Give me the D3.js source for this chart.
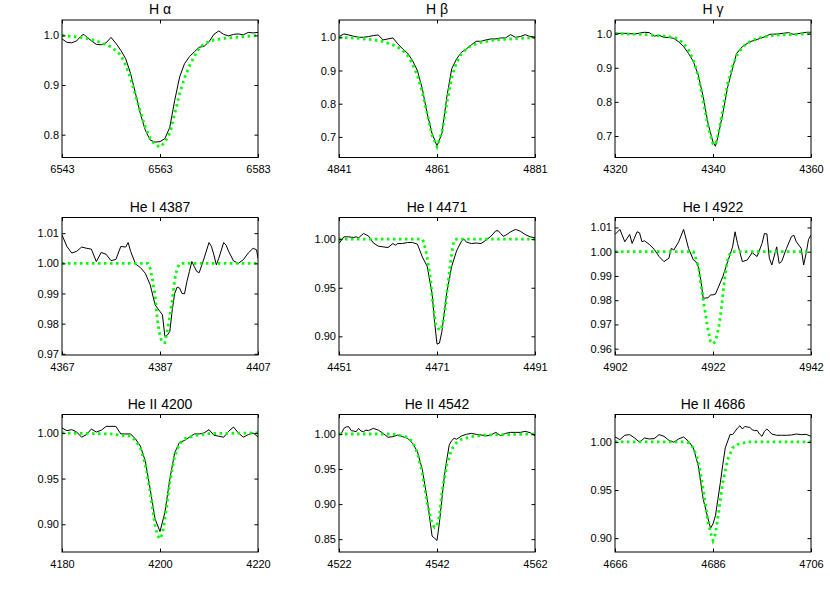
<!DOCTYPE html>
<meta charset="utf-8">
<style>

body {
  margin: 0;
  background: #fff;
}

.chart text {
  font-family: "Liberation Sans", Arial, sans-serif;
  fill: #000;
}

.chart .tick text {
  font-size: 11px;
}

.chart .title {
  font-size: 14px;
  text-anchor: middle;
}

.frame {
  fill: none;
  stroke: #000;
  stroke-width: 1;
}

.obs {
  fill: none;
  stroke: #000;
  stroke-width: 1;
}

.model {
  fill: none;
  stroke: #00ff00;
  stroke-width: 2.8;
  stroke-dasharray: 2.5 3.5;
}

</style>
<svg class="chart"></svg>
<script src="https://d3js.org/d3.v7.min.js"></script>
<script>

// panel titles, line centres (Angstrom), y limits and y ticks
var titles = ["H \u03b1", "H \u03b2", "H \u03b3",
              "He I 4387", "He I 4471", "He I 4922",
              "He II 4200", "He II 4542", "He II 4686"];

var centers = [6563, 4861, 4340, 4387, 4471, 4922, 4200, 4542, 4686];

var yLimits = [[0.754, 1.031], [0.638, 1.052], [0.637, 1.040],
               [0.9696, 1.0152], [0.8808, 1.0223], [0.9574, 1.0141],
               [0.8696, 1.0202], [0.8317, 1.0278], [0.8856, 1.0285]];

var yTicks = [[0.8, 0.9, 1.0], [0.7, 0.8, 0.9, 1.0], [0.7, 0.8, 0.9, 1.0],
              [0.97, 0.98, 0.99, 1.00, 1.01], [0.90, 0.95, 1.00], [0.96, 0.97, 0.98, 0.99, 1.00, 1.01],
              [0.90, 0.95, 1.00], [0.85, 0.90, 0.95, 1.00], [0.90, 0.95, 1.00]];

var yDigits = [1, 1, 1, 2, 2, 2, 2, 2, 2];

// observed spectra [wavelength, flux]
var haObs = [[6543,0.993],[6544,0.986],[6545,0.985],[6546,0.989],[6547,1.000],[6547.5,1.002],[6548,0.997],
  [6549,0.989],[6550,0.982],[6551,0.981],[6552,0.985],[6553,0.996],[6554,0.984],[6555,0.970],[6556,0.953],
  [6557,0.923],[6558,0.883],[6559,0.842],[6560,0.809],[6561,0.789],[6562,0.785],[6563,0.786],[6564,0.792],
  [6565,0.815],[6566,0.869],[6567,0.916],[6568,0.943],[6569,0.957],[6570,0.967],[6571,0.976],[6572,0.978],
  [6573,0.987],[6574,1.002],[6575,1.009],[6576,1.002],[6577,0.999],[6578,1.002],[6579,1.003],[6580,1.001],
  [6581,1.006],[6582,1.005],[6583,1.006]];

var hbObs = [[4841,1.002],[4842,1.010],[4843,1.007],[4844,1.003],[4845,1.000],[4846,1.000],[4847,1.002],
  [4848,1.005],[4849,1.007],[4850,0.992],[4851,0.995],[4852,0.998],[4853,0.980],[4854,0.965],[4855,0.952],
  [4856,0.930],[4857,0.900],[4858,0.845],[4859,0.770],[4860,0.710],[4861,0.673],[4862,0.710],[4863,0.820],
  [4864,0.905],[4865,0.935],[4866,0.955],[4867,0.965],[4868,0.977],[4869,0.988],[4870,0.988],[4871,0.992],
  [4872,0.995],[4873,0.995],[4874,0.998],[4875,0.998],[4876,1.008],[4877,1.000],[4878,1.002],[4879,1.008],
  [4880,1.002],[4881,1.002]];

var hgObs = [[4320,1.001],[4322,1.001],[4324,0.999],[4326,1.004],[4327,1.003],[4328,0.993],[4329,0.995],
  [4330,0.989],[4331,0.989],[4332,0.986],[4333,0.976],[4334,0.962],[4335,0.942],[4336,0.918],[4337,0.878],
  [4338,0.815],[4339,0.736],[4340,0.682],[4340.5,0.670],[4341,0.697],[4342,0.766],[4343,0.844],[4344,0.898],
  [4344.8,0.942],[4346,0.962],[4347.5,0.976],[4349,0.983],[4350.6,0.991],[4351.6,0.998],[4353,0.999],
  [4354.3,1.001],[4355.4,1.003],[4356.4,0.998],[4357.8,1.001],[4359.1,1.004],[4360,1.004]];

var he4387Obs = [[4367,1.0094],[4368,1.0056],[4369,1.0034],[4370,1.0040],[4371,1.0054],[4372,1.0050],
  [4373,1.0047],[4374,1.0006],[4375,1.0036],[4376,1.0030],[4377,1.0009],[4378,1.0013],[4379,1.0056],
  [4380,1.0054],[4380.5,1.0069],[4381,1.0040],[4382,0.9998],[4383,0.9986],[4384,0.9967],[4385,0.9929],
  [4386,0.9862],[4387,0.9840],[4387.5,0.9829],[4388,0.9757],[4388.5,0.9762],[4389,0.9774],[4389.5,0.9846],
  [4390,0.9900],[4390.5,0.9921],[4391,0.9918],[4391.5,0.9900],[4392,0.9899],[4392.5,0.9940],[4393,0.9973],
  [4393.5,1.0006],[4394,0.9989],[4394.5,0.9973],[4395,0.9969],[4396,1.0017],[4397,1.0069],[4397.5,1.0056],
  [4398,1.0028],[4398.5,0.9995],[4399,1.0017],[4400,1.0069],[4400.5,1.0060],[4401,1.0040],[4402,1.0008],
  [4403,1.0000],[4404,1.0012],[4405,1.0034],[4406,1.0050],[4406.7,1.0045],[4407,1.0017]];

var he4471Obs = [[4451,0.9955],[4452,1.0024],[4453,1.0024],[4454,1.0017],[4454.5,1.0024],[4455,1.0014],
  [4456,1.0058],[4457,1.0034],[4458,0.9962],[4459,0.9928],[4460,0.9921],[4461,0.9914],[4462,0.9955],
  [4462.5,0.9938],[4463,0.9955],[4464,0.9955],[4465,0.9966],[4466,0.9966],[4467,0.9949],[4468,0.9818],
  [4469,0.9720],[4470,0.9440],[4470.5,0.9150],[4471,0.8920],[4471.5,0.8930],[4472,0.9050],[4472.5,0.9250],
  [4473,0.9450],[4474,0.9720],[4475,0.9880],[4476,0.9980],[4476.5,1.0000],[4477,0.9970],[4478,0.9955],
  [4479,0.9960],[4480,0.9955],[4481,0.9990],[4482,1.0030],[4483,1.0086],[4483.5,1.0086],[4484,1.0058],
  [4484.5,1.0030],[4485,1.0040],[4486,1.0075],[4487,1.0100],[4488,1.0082],[4489,1.0048],[4490,1.0024],
  [4491,1.0014]];

var he4922Obs = [[4902,1.0071],[4903,1.0092],[4904,1.0041],[4905,1.0071],[4905.5,1.0034],[4906.5,1.0082],
  [4907,1.0078],[4907.5,1.0041],[4908,1.0045],[4909,1.0030],[4910,1.0010],[4911,0.9980],[4912,0.9959],
  [4913,0.9973],[4913.5,1.0014],[4914,1.0007],[4915,1.0041],[4916,1.0092],[4917,1.0014],[4918,0.9966],
  [4918.5,0.9959],[4919,0.9938],[4919.5,0.9884],[4920,0.9808],[4921,0.9810],[4921.5,0.9822],[4922,0.9822],
  [4922.5,0.9825],[4923,0.9849],[4924,0.9897],[4925,0.9959],[4926,1.0020],[4926.5,1.0082],[4927,1.0034],
  [4928,0.9959],[4929,0.9966],[4930,0.9996],[4931,0.9980],[4932,1.0034],[4932.5,1.0075],[4933,1.0073],
  [4933.5,0.9973],[4934,0.9945],[4935,1.0020],[4935.5,0.9952],[4936,0.9959],[4937,1.0014],[4938,1.0062],
  [4938.5,1.0068],[4939,1.0041],[4940,1.0014],[4940.5,0.9945],[4941,0.9993],[4941.5,1.0051],[4942,1.0068]];

var he4200Obs = [[4180,1.0054],[4181,1.0025],[4182,1.0036],[4183,1.0010],[4184,0.9953],[4185,0.9982],
  [4186,1.0043],[4187,1.0010],[4188,1.0029],[4189,1.0072],[4190,1.0072],[4191,1.0072],[4192,0.9989],
  [4193,0.9989],[4194,0.9989],[4195,0.9935],[4196,0.9855],[4197,0.9692],[4198,0.9384],[4199,0.9058],
  [4200,0.8920],[4201,0.9130],[4202,0.9493],[4203,0.9783],[4204,0.9899],[4205,0.9917],[4206,0.9953],
  [4207,0.9989],[4208,0.9989],[4209,1.0000],[4210,1.0036],[4211,0.9975],[4212,0.9964],[4213,0.9953],
  [4214,1.0018],[4215,1.0065],[4216,1.0000],[4217,0.9953],[4218,0.9982],[4219,1.0000],[4220,0.9957]];

var he4542Obs = [[4522,0.9995],[4522.5,1.0009],[4523,1.0080],[4523.5,1.0103],[4524,1.0103],[4524.5,1.0047],
  [4525,1.0042],[4525.5,1.0033],[4526,1.0080],[4526.5,1.0042],[4527,1.0033],[4527.5,1.0056],[4528,1.0047],
  [4529,1.0080],[4530,1.0056],[4531,1.0009],[4532,0.9953],[4533,0.9962],[4534,0.9986],[4535,0.9962],
  [4536,0.9939],[4537,0.9868],[4538,0.9751],[4539,0.9492],[4540,0.9069],[4541,0.8543],[4541.5,0.8514],
  [4542,0.8481],[4542.5,0.8740],[4543,0.9069],[4543.5,0.9398],[4544,0.9633],[4544.5,0.9845],[4545,0.9906],
  [4545.5,0.9939],[4546,0.9925],[4547,0.9972],[4548,0.9995],[4549,1.0009],[4550,0.9995],[4551,0.9986],
  [4552,0.9972],[4553,0.9986],[4554,1.0023],[4555,0.9976],[4556,1.0009],[4557,1.0023],[4558,1.0023],
  [4559,1.0023],[4560,1.0038],[4561,1.0019],[4562,0.9972]];

var he4686Obs = [[4666,1.0052],[4667,1.0024],[4668,1.0069],[4669,1.0076],[4670,1.0041],[4671,0.9997],
  [4672,1.0041],[4673,1.0031],[4674,1.0034],[4675,1.0076],[4676,1.0058],[4677,1.0017],[4678,0.9997],
  [4679,1.0031],[4680,1.0052],[4681,1.0007],[4682,0.9938],[4683,0.9749],[4684,0.9405],[4685,0.9199],
  [4685.5,0.9103],[4686,0.9148],[4686.5,0.9234],[4687,0.9405],[4687.5,0.9577],[4688,0.9766],[4688.5,0.9938],
  [4689.5,1.0079],[4690,1.0076],[4690.5,1.0110],[4691,1.0144],[4691.5,1.0168],[4692,1.0134],[4692.5,1.0161],
  [4693,1.0155],[4693.5,1.0151],[4694,1.0127],[4694.5,1.0117],[4695,1.0120],[4695.5,1.0082],[4696,1.0058],
  [4696.5,1.0110],[4697,1.0134],[4697.5,1.0110],[4698,1.0082],[4699,1.0069],[4700,1.0069],[4701,1.0069],
  [4702,1.0072],[4703,1.0082],[4704,1.0076],[4705,1.0079],[4706,1.0058]];

// model spectra [wavelength, flux]
var haModel = [[6543,1.000],[6546,0.997],[6548,0.994],[6550,0.989],[6552,0.981],[6553,0.977],[6554,0.969],
  [6555,0.960],[6556,0.940],[6557,0.913],[6558,0.880],[6559,0.846],[6560,0.815],[6561,0.792],[6562,0.780],
  [6563,0.775],[6564,0.785],[6565,0.803],[6566,0.842],[6567,0.882],[6568,0.914],[6569,0.938],[6570,0.958],
  [6571,0.974],[6572,0.983],[6574,0.991],[6577,0.995],[6583,1.000]];

var hbModel = [[4841,1.000],[4845,0.997],[4848,0.992],[4850,0.987],[4852,0.977],[4853,0.970],[4854,0.960],
  [4855,0.945],[4856,0.920],[4857,0.885],[4858,0.835],[4859,0.770],[4860,0.705],[4861,0.670],[4862,0.715],
  [4863,0.800],[4864,0.880],[4865,0.925],[4866,0.950],[4867,0.965],[4868,0.975],[4870,0.985],[4873,0.992],
  [4877,0.996],[4881,0.999]];

var hgModel = [[4320,1.000],[4325,0.998],[4330,0.993],[4332,0.989],[4333,0.983],[4334,0.972],[4335,0.952],
  [4336,0.923],[4337,0.874],[4338,0.805],[4339,0.726],[4340,0.677],[4340.5,0.675],[4341,0.700],[4342,0.775],
  [4343,0.855],[4344,0.905],[4345,0.940],[4346,0.960],[4347,0.972],[4348,0.980],[4350,0.990],[4353,0.996],
  [4357,0.998],[4360,1.000]];

var he4387Model = [[4367,1.0],[4384.5,1.0],[4385,0.9983],[4385.5,0.9945],[4386,0.9890],[4386.5,0.9810],
  [4387,0.9757],[4387.5,0.9737],[4388,0.9737],[4388.5,0.9778],[4389,0.9823],[4389.5,0.9878],[4390,0.9945],
  [4390.5,0.9983],[4391,0.9998],[4391.5,1.0],[4407,1.0]];

var he4471Model = [[4451,1.0],[4468,1.0],[4468.3,0.997],[4468.85,0.985],[4469.3,0.9716],[4469.7,0.958],
  [4470,0.941],[4470.35,0.927],[4470.7,0.913],[4471.2,0.908],[4471.8,0.9065],[4472.3,0.917],[4472.7,0.930],
  [4473.1,0.948],[4473.5,0.965],[4473.8,0.978],[4474.2,0.992],[4474.5,0.999],[4475,1.0],[4491,1.0]];

var he4922Model = [[4902,1.0],[4918,1.0],[4918.6,0.9966],[4919.1,0.9932],[4919.4,0.9884],[4919.8,0.9836],
  [4920.1,0.9788],[4920.5,0.9740],[4920.8,0.9699],[4921.15,0.9664],[4921.5,0.9630],[4922,0.9620],
  [4922.5,0.9630],[4922.85,0.9658],[4923.2,0.9692],[4923.55,0.9740],[4923.9,0.9801],[4924.15,0.9849],
  [4924.5,0.9904],[4924.8,0.9952],[4925.3,0.9986],[4925.8,1.0],[4942,1.0]];

var he4200Model = [[4180,1.0],[4190,0.9989],[4193,0.997],[4194,0.9964],[4195,0.992],[4196,0.9837],
  [4197,0.9656],[4198,0.9348],[4199,0.8986],[4199.5,0.8877],[4200,0.884],[4200.5,0.8895],[4201,0.9058],
  [4202,0.9457],[4203,0.9746],[4204,0.9884],[4205,0.9935],[4207,0.997],[4210,0.9993],[4220,1.0]];

var he4542Model = [[4522,1.0],[4532,1.0],[4534,0.9986],[4536,0.9953],[4537,0.9892],[4538,0.9728],
  [4539,0.9445],[4540,0.9022],[4541,0.8716],[4541.5,0.867],[4542,0.8693],[4542.5,0.8834],[4543,0.9163],
  [4544,0.9563],[4545,0.9784],[4546,0.9878],[4547,0.9925],[4549,0.9962],[4552,0.9986],[4562,1.0]];

var he4686Model = [[4666,1.0],[4680,1.0],[4681,0.999],[4682,0.9938],[4683,0.9801],[4684,0.9509],
  [4685,0.9165],[4685.5,0.9062],[4686,0.8976],[4686.5,0.9045],[4687,0.9216],[4688,0.9577],[4689,0.9818],
  [4690,0.9938],[4691,0.9973],[4693,1.0],[4706,1.0]];

var observed = [haObs, hbObs, hgObs, he4387Obs, he4471Obs, he4922Obs, he4200Obs, he4542Obs, he4686Obs];
var models = [haModel, hbModel, hgModel, he4387Model, he4471Model, he4922Model, he4200Model, he4542Model, he4686Model];

// layout
var width = 830,
    height = 593,
    colX = [62, 339, 615],
    rowY = [20, 217.5, 414.5],
    pw = 196,
    ph = 137.5,
    halfSpan = 20,
    tickLen = 3.5;

var chart = d3.select(".chart")
  .attr("width", width)
  .attr("height", height);

centers.forEach(function(c, i) {
  var x = d3.scaleLinear().domain([c - halfSpan, c + halfSpan]).range([0, pw]),
      y = d3.scaleLinear().domain(yLimits[i]).range([ph, 0]),
      xt = [c - halfSpan, c, c + halfSpan];

  var g = chart.append("g")
    .attr("transform", "translate(" + colX[i % 3] + "," + rowY[Math.floor(i / 3)] + ")");

  g.append("clipPath")
    .attr("id", "clip" + i)
    .append("rect")
      .attr("width", pw)
      .attr("height", ph);

  var line = d3.line()
    .x(function(d) { return x(d[0]); })
    .y(function(d) { return y(d[1]); });

  var plot = g.append("g").attr("clip-path", "url(#clip" + i + ")");

  plot.append("path")
    .attr("class", "obs")
    .attr("d", line(observed[i]));

  plot.append("path")
    .attr("class", "model")
    .attr("d", line(models[i]));

  // axes: labelled bottom/left, tick-only top/right, all ticks pointing in
  g.append("g")
    .attr("transform", "translate(0," + ph + ")")
    .call(d3.axisBottom(x).tickValues(xt).tickSize(-tickLen).tickPadding(8).tickFormat(d3.format("d")));

  g.append("g")
    .call(d3.axisLeft(y).tickValues(yTicks[i]).tickSize(-tickLen).tickPadding(3)
      .tickFormat(d3.format("." + yDigits[i] + "f")));

  g.append("g")
    .call(d3.axisTop(x).tickValues(xt).tickSize(-tickLen).tickFormat(""));

  g.append("g")
    .attr("transform", "translate(" + pw + ",0)")
    .call(d3.axisRight(y).tickValues(yTicks[i]).tickSize(-tickLen).tickFormat(""));

  g.selectAll(".domain").remove();

  g.append("rect")
    .attr("class", "frame")
    .attr("width", pw)
    .attr("height", ph);

  g.append("text")
    .attr("class", "title")
    .attr("x", pw / 2)
    .attr("y", -6)
    .text(titles[i]);
});

</script>
